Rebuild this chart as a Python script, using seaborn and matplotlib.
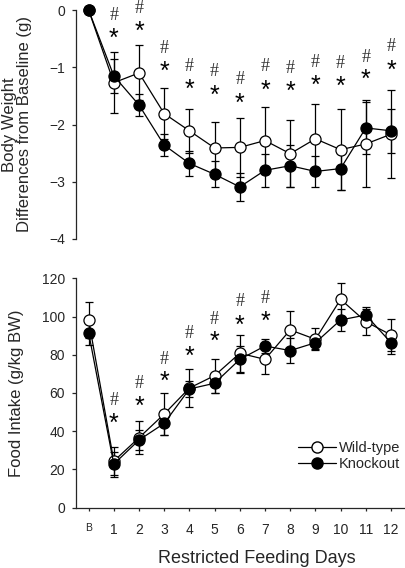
import matplotlib
matplotlib.use("Agg")
import matplotlib.pyplot as plt
import matplotlib.transforms as mtransforms
import seaborn as sns
import pandas as pd
import numpy as np
from matplotlib.lines import Line2D

sns.set_style("ticks")
plt.rcParams['font.family'] = ['Liberation Sans', 'DejaVu Sans']

day_labels = ['B', '1', '2', '3', '4', '5', '6', '7', '8', '9', '10', '11', '12']

bw_wt = [0, -1.27, -1.10, -1.81, -2.11, -2.41, -2.40, -2.28, -2.51, -2.25, -2.44, -2.34, -2.17]
bw_wt_err = [0, 0.53, 0.48, 0.45, 0.38, 0.46, 0.51, 0.58, 0.59, 0.60, 0.71, 0.76, 0.77]
bw_ko = [0, -1.15, -1.66, -2.36, -2.68, -2.87, -3.09, -2.80, -2.72, -2.82, -2.77, -2.06, -2.11]
bw_ko_err = [0, 0.30, 0.19, 0.19, 0.22, 0.23, 0.25, 0.29, 0.37, 0.27, 0.38, 0.45, 0.38]

fi_wt = [98.2, 24.4, 36.6, 49.0, 62.6, 69.1, 80.8, 77.6, 93.0, 88.1, 109.0, 97.3, 90.4]
fi_wt_err = [9.2, 7.5, 8.5, 10.8, 10.0, 8.9, 9.7, 7.8, 10.1, 5.7, 8.7, 6.9, 8.2]
fi_ko = [91.6, 22.8, 35.4, 44.1, 62.1, 65.1, 77.6, 84.6, 82.2, 86.3, 98.2, 100.8, 86.3]
fi_ko_err = [6.5, 6.5, 5.0, 6.1, 4.0, 4.9, 7.0, 3.7, 6.6, 3.4, 5.8, 4.4, 5.9]

# significance marks (day index, y of '#', y of '*')
bw_sig_days = [1, 2, 3, 4, 5, 6, 7, 8, 9, 10, 11, 12]
bw_hash_y = [-0.09, 0.02, -0.68, -0.98, -1.08, -1.22, -0.99, -1.02, -0.92, -0.93, -0.83, -0.64]
bw_star_y = [-0.40, -0.28, -0.99, -1.29, -1.41, -1.54, -1.31, -1.34, -1.22, -1.25, -1.13, -0.96]

fi_sig_days = [1, 2, 3, 4, 5, 6, 7]
fi_hash_y = [56.3, 65.1, 77.6, 90.9, 98.2, 107.8, 109.5]
fi_star_y = [46.7, 55.5, 68.6, 81.6, 89.5, 98.2, 100.0]

x = np.arange(len(day_labels))

fig = plt.figure(figsize=(4.06, 5.68), dpi=100)
ax1 = fig.add_axes([76/406, 1 - 239/568, 327.6/406, 229/568])
ax2 = fig.add_axes([76/406, 1 - 507.7/568, 327.6/406, 229.4/568])


def draw(ax, wt, wte, ko, koe):
    df_wt = pd.DataFrame({'day': x, 'value': wt})
    df_ko = pd.DataFrame({'day': x, 'value': ko})
    ax.errorbar(x, wt, yerr=wte, fmt='none', ecolor='black', elinewidth=0.9,
                capsize=3, capthick=0.9, zorder=1, clip_on=False)
    ax.errorbar(x, ko, yerr=koe, fmt='none', ecolor='black', elinewidth=0.9,
                capsize=3, capthick=0.9, zorder=1, clip_on=False)
    sns.lineplot(data=df_wt, x='day', y='value', ax=ax, color='black', lw=0.9,
                 marker='o', markersize=8, markerfacecolor='white',
                 markeredgecolor='black', markeredgewidth=0.9, errorbar=None,
                 zorder=3, clip_on=False)
    sns.lineplot(data=df_ko, x='day', y='value', ax=ax, color='black', lw=0.9,
                 marker='o', markersize=8, markerfacecolor='black',
                 markeredgecolor='black', markeredgewidth=0.9, errorbar=None,
                 zorder=4, clip_on=False)


def marks(ax, days, hy, sy):
    shift = ax.transData + mtransforms.ScaledTranslation(0, -4/72, fig.dpi_scale_trans)
    for d, h, s in zip(days, hy, sy):
        ax.text(d, h, '#', ha='center', va='center', fontsize=13,
                family=['Liberation Serif'], color='#333333')
        ax.text(d, s, '*', ha='center', va='center', fontsize=18,
                family=['Liberation Sans'], color='black', transform=shift)


draw(ax1, bw_wt, bw_wt_err, bw_ko, bw_ko_err)
draw(ax2, fi_wt, fi_wt_err, fi_ko, fi_ko_err)
marks(ax1, bw_sig_days, bw_hash_y, bw_star_y)
marks(ax2, fi_sig_days, fi_hash_y, fi_star_y)

for ax in (ax1, ax2):
    ax.set_xlim(-0.5, 12.5)
    for s in ('top', 'right'):
        ax.spines[s].set_visible(False)
    ax.spines['left'].set_linewidth(0.9)
    ax.spines['bottom'].set_linewidth(0.9)
    ax.tick_params(axis='y', direction='out', length=3, width=0.9, labelsize=10, pad=5)

ax1.set_ylim(-4, 0)
ax1.set_yticks([0, -1, -2, -3, -4])
ax1.spines['bottom'].set_visible(False)
ax1.set_xticks([])
ax1.set_xlabel('')
ax1.set_ylabel('Body Weight\nDifferences from Baseline (g)', fontsize=12, linespacing=1.0)
ax1.yaxis.set_label_coords(-0.134, 0.5)

ax2.set_ylim(0, 120)
ax2.set_yticks([0, 20, 40, 60, 80, 100, 120])
ax2.set_xticks(x)
ax2.set_xticklabels(day_labels)
ax2.tick_params(axis='x', direction='out', length=2, width=0.9, labelsize=10, pad=9)
ax2.get_xticklabels()[0].set_fontsize(7.5)
ax2.set_xlabel('Restricted Feeding Days', fontsize=13)
ax2.xaxis.set_label_coords(0.551, -0.184)
ax2.set_ylabel('Food Intake (g/kg BW)', fontsize=12)
ax2.yaxis.set_label_coords(-0.159, 0.5)

handles = [
    Line2D([], [], color='black', lw=0.9, marker='o', markersize=8,
           markerfacecolor='white', markeredgecolor='black'),
    Line2D([], [], color='black', lw=0.9, marker='o', markersize=8,
           markerfacecolor='black', markeredgecolor='black'),
]
ax2.legend(handles, ['Wild-type', 'Knockout'], loc='upper left',
           bbox_to_anchor=(0.678, 0.29), frameon=False, fontsize=10.5,
           handlelength=2.6, handletextpad=0.2, labelspacing=0.15,
           borderpad=0, borderaxespad=0)

fig.savefig('out.png', dpi=100)
